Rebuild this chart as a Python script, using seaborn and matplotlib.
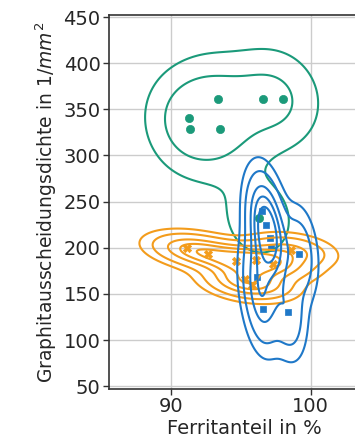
import numpy as np
import pandas as pd
import matplotlib
matplotlib.use("Agg")
import matplotlib.pyplot as plt
import matplotlib.colors as mcolors
import seaborn as sns

# Data
green_x = [91.3, 91.4, 93.4, 93.5, 96.6, 98.0, 96.3]
green_y = [341, 329, 361, 329, 361, 361, 232]
orange_x = [91.2, 92.7, 94.7, 96.1, 95.3, 97.3, 95.8, 98.6]
orange_y = [200, 193, 186, 187, 166, 182, 160, 197]
blue_x = [96.5, 97.1, 97.2, 99.2, 96.2, 96.6, 98.4, 96.8]
blue_y = [240, 210, 200, 193, 168, 134, 130, 225]

groups = ["A", "B", "C"]
colors = {"A": "#1b9a7a", "B": "#f39c1c", "C": "#1f78c8"}
markers = {"A": "o", "B": "X", "C": "s"}
layer = {"A": 2.0, "B": 2.1, "C": 2.2}

df = pd.DataFrame({
    "x": green_x + orange_x + blue_x,
    "y": green_y + orange_y + blue_y,
    "g": ["A"] * len(green_x) + ["B"] * len(orange_x) + ["C"] * len(blue_x),
})

sns.set_style("whitegrid")
plt.rcParams["font.family"] = ["DejaVu Sans"]

fig = plt.figure(figsize=(3.55, 4.46), dpi=100)
ax = fig.add_axes([0.307, 0.128, 0.765, 0.838])

for g in groups:
    sub = df[df.g == g]
    sns.scatterplot(data=sub, x="x", y="y", color=colors[g], marker=markers[g],
                    s=35 if g != "C" else 22, edgecolor=colors[g], linewidth=0.5,
                    ax=ax, legend=False, zorder=1)
n_before = len(ax.collections)
sns.kdeplot(data=df, x="x", y="y", hue="g", palette=colors, hue_order=groups,
            levels=[0.05, 0.16, 0.42, 0.6, 0.78], linewidths=1.5,
            ax=ax, legend=False)

# put blue contours above orange, orange above green
for coll in ax.collections[n_before:]:
    ec = coll.get_edgecolor()
    if len(ec) == 0:
        continue
    for g, c in colors.items():
        if np.allclose(ec[0][:3], mcolors.to_rgb(c), atol=0.02):
            coll.set_zorder(layer[g])

ax.set_xlim(85.6, 105)
ax.set_ylim(47, 452)
ax.set_xticks([90, 100])
ax.set_yticks(range(50, 451, 50))
ax.tick_params(axis="both", labelsize=14, length=4, width=1, color="#333333",
               left=True, bottom=True, direction="out", pad=2)
ax.set_xlabel("Ferritanteil in %", fontsize=14, labelpad=2)
ax.set_ylabel("Graphitausscheidungsdichte in 1/$mm^2$", fontsize=13.5, labelpad=3)
for s in ax.spines.values():
    s.set_color("#333333")
    s.set_linewidth(1.2)
ax.grid(True, color="#cccccc", linewidth=1)

fig.savefig("out.png", dpi=100)
